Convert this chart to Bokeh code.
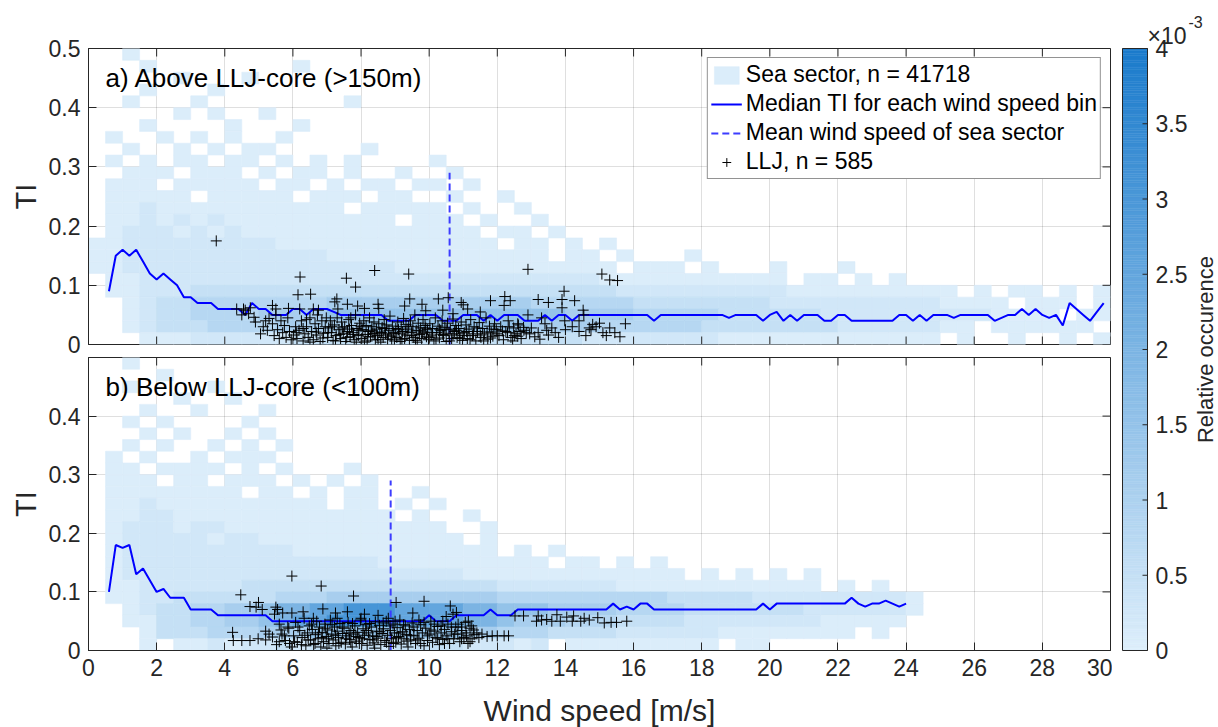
import numpy as np
from bokeh.plotting import figure
from bokeh.models import (ColumnDataSource, LinearColorMapper, FixedTicker, LinearAxis,
                          Label, Legend, LegendItem, Range1d, Grid)
from bokeh.layouts import row, column
from bokeh.embed import file_html
from bokeh.resources import INLINE
from bokeh.transform import transform

FONT = "Liberation Sans"
TXT = "#262626"

# ---------------- data ----------------
WS_BIN = 0.5      # heat-map column width [m/s]
TI_BIN = 0.02     # heat-map row height [-]
# relative occurrence per level code (0 = empty cell)
LEVELS = [0, 0.05e-3, 0.25e-3, 0.5e-3, 0.8e-3, 1.1e-3, 1.5e-3, 2.0e-3, 2.5e-3, 3.1e-3]

# heat-map rows, top (TI 0.48-0.50) to bottom (TI 0-0.02); columns of 0.5 m/s from 0 m/s
heat_a = [
    "0010000000",
    "0001000000 0010000000",
    "0000010001",
    "0001000100",
    "0010001000 0000010000",
    "0000010100 1000000000",
    "0001000010 0010000000",
    "0100101010 0100000000",
    "0010010101 1000001000",
    "0101011011 0101010000 1000000000",
    "0011101110 1011010010 0100000000",
    "0111011111 0110101101 1010000000",
    "0111110111 1101110110 0100100000",
    "0112111111 1111101111 1010010000",
    "0112121211 1111111101 1101001000",
    "0122212121 1111111111 1110110100",
    "1122222222 2111111111 1111011010 1000000000",
    "1122222222 2222111111 1111111011 0100010000",
    "1122222222 2222222211 1111111111 1011101000 1000100000",
    "0112222222 2222222222 2222222222 1111111111 1011010100",
    "0112223333 3333333333 3333333333 3222222222 2111111111 1010110101",
    "0012334444 4444555555 5555554444 4433333333 2222222222 1111011101",
    "0012334444 5555666666 6666666655 5544444333 3332222222 2221111011",
    "0012333444 4555556666 6666665555 4444443333 3333222222 1101111110",
    "0001112222 2233333333 3333333332 2222222111 1111111111 0100100101",
]
heat_b = [
    "0010000000",
    "0000100000",
    "0010000100",
    "0000010010",
    "0001001000 1000000000",
    "0010100001",
    "0001010010 1000000000",
    "0010100101 0100000000",
    "0101001011 1000000000",
    "0110111101 0100010000",
    "0111011011 1010101000",
    "0111111110 1101011001",
    "0112111111 1111011010 1000000000",
    "0112211111 1111111101 0010000000",
    "0122212211 1111111111 1001000000",
    "0122222122 1111111111 1101000000",
    "0122222222 2211111111 1111010100",
    "0122222222 2222222111 1111111011 0101000000",
    "0122222222 2222222222 2211111111 1111101010 1010000000",
    "0112222223 3333333333 3333222222 2111111111 1110101000",
    "0112233333 3444555555 5555444444 4444333332 2222222210",
    "0012334455 6778899988 8877666555 5444433333 3322222210",
    "0011334455 6788999988 8877655544 4333322222 2221111100",
    "0001333444 5556666666 6655444333 3222222111 1111101000",
    "0001011212 2323333233 3322212011 1111111011",
]

# median TI per 0.2 m/s wind speed bin, first bin centre 0.6 m/s
median_a = [
    0.09, 0.15, 0.16, 0.15, 0.16, 0.14, 0.12, 0.11, 0.12, 0.11,
    0.10, 0.08, 0.08, 0.07, 0.07, 0.07, 0.06, 0.06, 0.06, 0.06,
    0.05, 0.07, 0.06, 0.06, 0.05, 0.05, 0.05, 0.06, 0.06, 0.05,
    0.06, 0.06, 0.06, 0.055, 0.05, 0.05, 0.05, 0.05, 0.05, 0.05,
    0.05, 0.04, 0.04, 0.04, 0.04, 0.05, 0.05, 0.05, 0.05, 0.04,
    0.04, 0.04, 0.05, 0.05, 0.05, 0.04, 0.05, 0.04, 0.05, 0.05,
    0.05, 0.04, 0.04, 0.04, 0.05, 0.04, 0.05, 0.05, 0.04, 0.05,
    0.05, 0.05, 0.05, 0.05, 0.05, 0.05, 0.05, 0.05, 0.05, 0.05,
    0.04, 0.05, 0.05, 0.05, 0.05, 0.05, 0.05, 0.05, 0.05, 0.05,
    0.05, 0.045, 0.05, 0.05, 0.05, 0.05, 0.04, 0.05, 0.055, 0.04,
    0.05, 0.04, 0.05, 0.05, 0.05, 0.04, 0.04, 0.05, 0.05, 0.04,
    0.04, 0.04, 0.04, 0.04, 0.04, 0.04, 0.05, 0.05, 0.04, 0.05,
    0.04, 0.05, 0.05, 0.05, 0.045, 0.05, 0.05, 0.05, 0.05, 0.05,
    0.04, 0.045, 0.05, 0.05, 0.06, 0.05, 0.06, 0.05, 0.045, 0.05,
    0.032, 0.07, 0.06, 0.05, 0.04, 0.055, 0.07,
]
median_b = [
    0.10, 0.18, 0.175, 0.18, 0.13, 0.14, 0.12, 0.10, 0.105, 0.09,
    0.09, 0.09, 0.07, 0.07, 0.07, 0.07, 0.06, 0.06, 0.06, 0.06,
    0.06, 0.06, 0.06, 0.06, 0.05, 0.05, 0.05, 0.05, 0.05, 0.05,
    0.05, 0.05, 0.05, 0.05, 0.05, 0.05, 0.05, 0.05, 0.05, 0.05,
    0.05, 0.05, 0.05, 0.05, 0.05, 0.05, 0.05, 0.06, 0.05, 0.05,
    0.05, 0.06, 0.06, 0.06, 0.06, 0.06, 0.07, 0.06, 0.06, 0.06,
    0.07, 0.07, 0.07, 0.07, 0.07, 0.07, 0.07, 0.07, 0.07, 0.07,
    0.07, 0.07, 0.07, 0.07, 0.08, 0.07, 0.075, 0.07, 0.08, 0.08,
    0.07, 0.07, 0.07, 0.07, 0.07, 0.07, 0.07, 0.07, 0.07, 0.07,
    0.07, 0.07, 0.07, 0.07, 0.07, 0.07, 0.08, 0.07, 0.08, 0.08,
    0.08, 0.08, 0.08, 0.08, 0.08, 0.08, 0.08, 0.08, 0.08, 0.09,
    0.08, 0.075, 0.08, 0.08, 0.085, 0.08, 0.075, 0.08,
]
MEDIAN_FIRST_WS = 0.6
MEDIAN_STEP = 0.2

mean_ws_a = 10.6
mean_ws_b = 8.87
mean_line_top = 0.29

# LLJ events (wind speed, TI)
llj_a = [
    (3.75, 0.175), (6.21, 0.114), (7.57, 0.112), (8.40, 0.125), (9.40, 0.119), (12.9, 0.127),
    (15.07, 0.119), (15.3, 0.109), (15.53, 0.108), (6.15, 0.084), (6.52, 0.085), (7.84, 0.097),
    (7.29, 0.077), (7.23, 0.072), (9.43, 0.077), (9.28, 0.065), (9.79, 0.068), (7.6, 0.068),
    (7.9, 0.065), (8.1, 0.061), (8.5, 0.068), (8.52, 0.061), (7.32, 0.06), (6.6, 0.06),
    (6.75, 0.058), (6.2, 0.06), (5.87, 0.061), (5.4, 0.066), (5.5, 0.06), (4.55, 0.06),
    (4.7, 0.052), (4.86, 0.046), (4.9, 0.038), (4.5, 0.05), (4.35, 0.06), (4.6, 0.058),
    (4.75, 0.062), (10.27, 0.077), (10.56, 0.079), (10.94, 0.071), (11.0, 0.067), (11.13, 0.06),
    (11.8, 0.074), (12.22, 0.081), (12.38, 0.074), (12.2, 0.066), (13.2, 0.076), (13.5, 0.071),
    (13.9, 0.076), (13.96, 0.09), (14.27, 0.074), (13.9, 0.062), (14.52, 0.058), (14.54, 0.05),
    (14.4, 0.04), (14.8, 0.034), (15.0, 0.036), (15.1, 0.02), (15.3, 0.028), (15.45, 0.02),
    (14.7, 0.028), (14.4, 0.022), (14.2, 0.03), (14.0, 0.025), (13.98, 0.04), (13.4, 0.035),
    (13.6, 0.028), (13.7, 0.02), (13.5, 0.016), (13.2, 0.02), (13.1, 0.013), (12.95, 0.018),
    (12.77, 0.029), (12.67, 0.022), (12.6, 0.035), (12.5, 0.015), (12.3, 0.02), (15.76, 0.035),
    (15.6, 0.013), (15.2, 0.015), (14.9, 0.03), (14.75, 0.025), (14.6, 0.015), (13.3, 0.045),
    (12.9, 0.05), (11.5, 0.055), (10.4, 0.058), (9.9, 0.057), (10.7, 0.052),
    (5.05, 0.018), (5.13, 0.03), (5.2, 0.04), (5.3, 0.044), (5.4, 0.035), (5.45, 0.015),
    (5.55, 0.025), (5.6, 0.01), (5.7, 0.02), (5.75, 0.032), (5.8, 0.012), (5.85, 0.045),
    (5.9, 0.022), (5.95, 0.008), (5.5, 0.05),
    (6.02, 0.016), (6.08, 0.03), (6.12, 0.01), (6.18, 0.024), (6.25, 0.04), (6.3, 0.006),
    (6.35, 0.018), (6.4, 0.03), (6.45, 0.012), (6.5, 0.045), (6.55, 0.022), (6.6, 0.008),
    (6.65, 0.035), (6.7, 0.016), (6.75, 0.027), (6.8, 0.005), (6.85, 0.04), (6.9, 0.019),
    (6.95, 0.03), (6.72, 0.05),
    (7.02, 0.012), (7.05, 0.028), (7.1, 0.04), (7.13, 0.02), (7.18, 0.007), (7.22, 0.033),
    (7.27, 0.015), (7.3, 0.045), (7.35, 0.025), (7.4, 0.01), (7.43, 0.038), (7.48, 0.019),
    (7.52, 0.03), (7.55, 0.005), (7.6, 0.022), (7.64, 0.042), (7.68, 0.013), (7.72, 0.032),
    (7.76, 0.02), (7.8, 0.008), (7.84, 0.05), (7.88, 0.027), (7.92, 0.015), (7.96, 0.036),
    (8.02, 0.01), (8.05, 0.025), (8.08, 0.04), (8.12, 0.017), (8.15, 0.032), (8.18, 0.006),
    (8.22, 0.022), (8.25, 0.045), (8.28, 0.013), (8.32, 0.03), (8.35, 0.019), (8.38, 0.038),
    (8.42, 0.008), (8.45, 0.026), (8.48, 0.015), (8.52, 0.035), (8.55, 0.021), (8.58, 0.004),
    (8.62, 0.029), (8.65, 0.012), (8.68, 0.042), (8.72, 0.018), (8.75, 0.033), (8.78, 0.009),
    (8.82, 0.024), (8.85, 0.048), (8.88, 0.014), (8.92, 0.031), (8.95, 0.02), (8.98, 0.006),
    (9.02, 0.027), (9.05, 0.012), (9.08, 0.038), (9.12, 0.018), (9.15, 0.005), (9.18, 0.03),
    (9.22, 0.022), (9.25, 0.044), (9.28, 0.01), (9.32, 0.034), (9.35, 0.016), (9.38, 0.026),
    (9.42, 0.007), (9.45, 0.04), (9.48, 0.02), (9.52, 0.03), (9.55, 0.012), (9.58, 0.05),
    (9.62, 0.024), (9.65, 0.004), (9.68, 0.036), (9.72, 0.017), (9.75, 0.028), (9.78, 0.01),
    (9.82, 0.042), (9.85, 0.021), (9.88, 0.032), (9.92, 0.013), (9.95, 0.025), (9.98, 0.008),
    (10.02, 0.035), (10.06, 0.016), (10.1, 0.027), (10.14, 0.006), (10.18, 0.045), (10.22, 0.02),
    (10.26, 0.031), (10.3, 0.011), (10.34, 0.024), (10.38, 0.04), (10.42, 0.015), (10.46, 0.029),
    (10.5, 0.005), (10.54, 0.036), (10.58, 0.019), (10.62, 0.026), (10.66, 0.01), (10.7, 0.043),
    (10.74, 0.022), (10.78, 0.032), (10.82, 0.012), (10.86, 0.027), (10.9, 0.018), (10.94, 0.038),
    (10.98, 0.007),
    (11.03, 0.02), (11.08, 0.033), (11.12, 0.01), (11.17, 0.026), (11.22, 0.042), (11.27, 0.015),
    (11.32, 0.03), (11.37, 0.006), (11.42, 0.022), (11.47, 0.037), (11.52, 0.012), (11.57, 0.027),
    (11.62, 0.018), (11.67, 0.045), (11.72, 0.009), (11.77, 0.031), (11.82, 0.021), (11.87, 0.014),
    (11.92, 0.035), (11.97, 0.025),
    (12.05, 0.015), (12.1, 0.03), (12.18, 0.008), (12.25, 0.022), (12.32, 0.04), (12.4, 0.012),
    (12.48, 0.028), (12.55, 0.018), (12.62, 0.033), (12.7, 0.01), (12.78, 0.024),
    (7.03, 0.02), (7.15, 0.03), (7.25, 0.006), (7.38, 0.017), (7.45, 0.028), (7.58, 0.012),
    (7.66, 0.026), (7.78, 0.017), (7.86, 0.004), (7.94, 0.024), (8.0, 0.03), (8.1, 0.004),
    (8.2, 0.013), (8.3, 0.024), (8.4, 0.018), (8.5, 0.008), (8.6, 0.02), (8.7, 0.027),
    (8.8, 0.016), (8.9, 0.009), (9.0, 0.019), (9.1, 0.025), (9.2, 0.009), (9.3, 0.021),
    (9.4, 0.031), (9.5, 0.015), (9.6, 0.007), (9.7, 0.023), (9.8, 0.019), (9.9, 0.028),
    (10.0, 0.012), (10.1, 0.02), (10.2, 0.009), (10.3, 0.026), (10.4, 0.017), (10.5, 0.025),
    (10.6, 0.006), (10.7, 0.016), (10.8, 0.024), (10.9, 0.01), (11.0, 0.015), (11.1, 0.022),
    (11.2, 0.008), (11.3, 0.018), (11.4, 0.028), (11.5, 0.016), (11.6, 0.006), (11.7, 0.021),
    (11.8, 0.011), (11.9, 0.026), (12.0, 0.018), (12.15, 0.023), (12.35, 0.03), (12.45, 0.006),
    (12.6, 0.014), (12.85, 0.02), (13.0, 0.028), (13.25, 0.009), (13.45, 0.024), (13.8, 0.012),
    (6.1, 0.02), (6.3, 0.027), (6.5, 0.004), (6.68, 0.021), (6.88, 0.011), (5.65, 0.04),
    (5.25, 0.024), (6.4, 0.042), (6.98, 0.045), (7.7, 0.045),
]
llj_b = [
    (5.97, 0.127), (6.83, 0.11), (7.78, 0.093), (4.47, 0.095), (9.03, 0.082), (9.85, 0.084),
    (4.74, 0.075), (4.99, 0.082), (4.92, 0.074), (5.1, 0.07), (5.5, 0.074), (5.55, 0.07),
    (5.7, 0.064), (5.46, 0.062), (5.97, 0.064), (6.3, 0.066), (6.88, 0.071), (7.25, 0.064),
    (7.6, 0.066), (8.1, 0.062), (8.5, 0.06), (9.52, 0.064), (10.62, 0.076), (10.8, 0.065),
    (10.7, 0.062), (10.5, 0.058), (11.15, 0.05), (11.25, 0.042), (11.06, 0.048), (10.95, 0.04),
    (12.52, 0.059), (12.77, 0.059), (13.2, 0.059), (13.3, 0.052), (13.15, 0.05), (13.45, 0.053),
    (13.75, 0.061), (13.6, 0.05), (13.85, 0.05), (14.04, 0.057), (14.24, 0.059), (14.2, 0.05),
    (14.45, 0.05), (14.55, 0.055), (14.7, 0.052), (14.95, 0.056), (15.14, 0.047), (15.34, 0.048),
    (15.5, 0.048), (15.8, 0.05),
    (11.4, 0.03), (11.46, 0.022), (11.7, 0.024), (11.85, 0.025), (12.0, 0.025), (12.2, 0.025),
    (12.33, 0.025), (11.3, 0.035), (11.55, 0.028), (11.2, 0.015), (11.1, 0.025),
    (4.23, 0.031), (4.25, 0.017), (4.5, 0.017), (4.74, 0.017), (4.98, 0.02), (5.2, 0.033),
    (5.2, 0.018), (5.4, 0.023), (5.3, 0.028), (5.6, 0.015), (5.75, 0.025), (5.85, 0.04),
    (5.65, 0.035), (5.9, 0.012),
    (5.52, 0.01), (5.6, 0.045), (5.68, 0.028), (5.78, 0.017), (5.88, 0.038), (5.95, 0.006),
    (6.02, 0.025), (6.08, 0.048), (6.13, 0.014), (6.2, 0.034), (6.27, 0.022), (6.33, 0.055),
    (6.38, 0.008), (6.43, 0.03), (6.48, 0.042),
    (6.52, 0.018), (6.57, 0.036), (6.61, 0.01), (6.66, 0.027), (6.7, 0.05), (6.74, 0.02),
    (6.78, 0.04), (6.82, 0.006), (6.86, 0.031), (6.9, 0.015), (6.94, 0.045), (6.98, 0.024),
    (7.02, 0.035), (7.06, 0.012), (7.1, 0.052), (7.14, 0.028), (7.18, 0.018), (7.22, 0.04),
    (7.26, 0.008), (7.3, 0.033), (7.34, 0.022), (7.38, 0.046), (7.42, 0.014), (7.46, 0.029),
    (7.5, 0.038), (7.54, 0.011), (7.58, 0.025), (7.62, 0.048), (7.66, 0.019), (7.7, 0.034),
    (7.74, 0.006), (7.78, 0.028), (7.82, 0.042), (7.86, 0.016), (7.9, 0.031), (7.94, 0.022),
    (7.98, 0.052), (8.02, 0.012), (8.06, 0.037), (8.1, 0.026), (8.14, 0.044), (8.18, 0.009),
    (8.22, 0.03), (8.26, 0.019), (8.3, 0.04), (8.34, 0.025), (8.38, 0.013), (8.42, 0.049),
    (8.46, 0.033),
    (8.5, 0.021), (8.54, 0.043), (8.58, 0.01), (8.62, 0.029), (8.66, 0.037), (8.7, 0.017),
    (8.74, 0.05), (8.78, 0.026), (8.82, 0.007), (8.86, 0.034), (8.9, 0.02), (8.94, 0.045),
    (8.98, 0.03), (9.02, 0.014), (9.06, 0.039), (9.1, 0.024), (9.14, 0.052), (9.18, 0.011),
    (9.22, 0.032), (9.26, 0.02), (9.3, 0.042), (9.34, 0.027), (9.38, 0.006), (9.42, 0.036),
    (9.46, 0.018),
    (9.5, 0.047), (9.55, 0.025), (9.6, 0.012), (9.65, 0.034), (9.7, 0.021), (9.75, 0.044),
    (9.8, 0.03), (9.85, 0.008), (9.9, 0.038), (9.95, 0.017), (10.0, 0.028), (10.05, 0.05),
    (10.1, 0.014), (10.15, 0.033), (10.2, 0.022), (10.25, 0.041), (10.3, 0.01), (10.35, 0.03),
    (10.4, 0.019), (10.45, 0.036),
    (10.5, 0.025), (10.55, 0.045), (10.6, 0.012), (10.66, 0.032), (10.72, 0.02), (10.78, 0.04),
    (10.84, 0.028), (10.9, 0.015), (10.96, 0.034), (11.02, 0.022), (11.08, 0.03), (11.14, 0.012),
    (11.2, 0.038), (11.26, 0.02), (11.32, 0.027),
    (6.05, 0.015), (6.15, 0.04), (6.25, 0.01), (6.35, 0.026), (6.45, 0.018), (6.55, 0.045),
    (6.65, 0.012), (6.75, 0.03), (6.85, 0.022), (6.95, 0.038), (7.05, 0.02), (7.15, 0.044),
    (7.25, 0.026), (7.35, 0.012), (7.45, 0.04), (7.55, 0.02), (7.65, 0.03), (7.75, 0.046),
    (7.85, 0.024), (7.95, 0.012), (8.05, 0.02), (8.15, 0.034), (8.25, 0.046), (8.35, 0.018),
    (8.45, 0.024), (8.55, 0.032), (8.65, 0.047), (8.75, 0.014), (8.85, 0.042), (8.95, 0.012),
    (9.05, 0.022), (9.15, 0.03), (9.25, 0.044), (9.35, 0.016), (9.45, 0.026), (9.55, 0.04),
    (9.65, 0.018), (9.75, 0.012), (9.85, 0.048), (9.95, 0.025), (10.05, 0.035), (10.15, 0.045),
    (10.25, 0.02), (10.35, 0.042), (10.45, 0.012), (10.55, 0.02), (10.65, 0.04), (10.75, 0.028),
    (10.85, 0.045), (10.95, 0.02), (7.0, 0.004), (7.7, 0.014), (8.4, 0.004), (9.0, 0.05),
    (9.7, 0.052), (10.4, 0.05), (6.6, 0.055), (8.0, 0.055), (8.8, 0.055), (7.3, 0.055),
]

x_ticks = [0, 2, 4, 6, 8, 10, 12, 14, 16, 18, 20, 22, 24, 26, 28, 30]
y_ticks = [0, 0.1, 0.2, 0.3, 0.4, 0.5]
y_labels_a = {0: "0", 0.1: "0.1", 0.2: "0.2", 0.3: "0.3", 0.4: "0.4", 0.5: "0.5"}
y_labels_b = {0: "0", 0.1: "0.1", 0.2: "0.2", 0.3: "0.3", 0.4: "0.4", 0.5: ""}
cb_ticks = [0, 0.5, 1, 1.5, 2, 2.5, 3, 3.5, 4]
cb_labels = ["0", "0.5", "1", "1.5", "2", "2.5", "3", "3.5", "4"]
cb_low, cb_high = 0.0, 4.0e-3

legend_labels = ["Sea sector, n = 41718", "Median TI for each wind speed bin",
                 "Mean wind speed of sea sector", "LLJ, n = 585"]

# ---------------- colours ----------------
lo = np.array([221, 238, 251]); hi = np.array([27, 123, 204])
PALETTE = ["#%02x%02x%02x" % tuple(int(round(v)) for v in lo + (hi - lo) * t)
           for t in np.linspace(0, 1, 256)]
mapper = LinearColorMapper(palette=PALETTE, low=cb_low, high=cb_high)

FRAME_W = 1022
TICK_PX = 8


def heat_source(rows):
    xs, ys, vs, lv = [], [], [], []
    n = len(rows)
    for i, r in enumerate(rows):
        r = "".join(r.split())
        tib = n - 1 - i
        for c, ch in enumerate(r):
            lvl = int(ch)
            if lvl == 0:
                continue
            xs.append(c * WS_BIN + WS_BIN / 2)
            ys.append(tib * TI_BIN + TI_BIN / 2)
            vs.append(LEVELS[lvl])
            lv.append(lvl)
    return ColumnDataSource(dict(x=xs, y=ys, v=vs)), lv


def style_axis(ax, fs="23px"):
    ax.axis_line_color = TXT
    ax.major_tick_line_color = TXT
    ax.major_tick_in = TICK_PX
    ax.major_tick_out = 0
    ax.minor_tick_line_color = None
    ax.major_label_text_color = TXT
    ax.major_label_text_font = FONT
    ax.major_label_text_font_size = fs
    ax.major_label_standoff = 8


def inner_ticks(p, fh, sides):
    """MATLAB-style inward ticks on the unlabeled sides of the box."""
    dx = 30.0 / FRAME_W * TICK_PX
    dy = 0.5 / fh * TICK_PX
    x1 = x_ticks[-1]
    ylo = y_ticks[0]; yhi = y_ticks[-1]
    kw = dict(line_color=TXT, line_width=1)
    if "top" in sides:
        p.segment(x0=x_ticks, x1=x_ticks, y0=[yhi] * len(x_ticks), y1=[yhi - dy] * len(x_ticks), **kw)
    if "bottom" in sides:
        p.segment(x0=x_ticks, x1=x_ticks, y0=[ylo] * len(x_ticks), y1=[ylo + dy] * len(x_ticks), **kw)
    if "right" in sides:
        p.segment(x0=[x1] * len(y_ticks), x1=[x1 - dx] * len(y_ticks), y0=y_ticks, y1=y_ticks, **kw)


def make_panel(heat_rows, median, mean_ws, llj, label, top, bottom, fh, xlabels, ylab_over, legend):
    p = figure(frame_width=FRAME_W, frame_height=fh, x_range=Range1d(0, 30), y_range=Range1d(0, 0.5),
               x_axis_type=None, y_axis_type=None, output_backend="svg", toolbar_location=None,
               min_border_left=88, min_border_right=2, min_border_top=top, min_border_bottom=bottom,
               background_fill_color="white", border_fill_color="white")
    p.outline_line_color = TXT
    p.outline_line_width = 1
    xt = FixedTicker(ticks=x_ticks)
    yt = FixedTicker(ticks=y_ticks)
    p.add_layout(Grid(dimension=0, ticker=xt, grid_line_color=TXT, grid_line_alpha=0.15))
    p.add_layout(Grid(dimension=1, ticker=yt, grid_line_color=TXT, grid_line_alpha=0.15))

    left = LinearAxis(ticker=yt, major_label_overrides=ylab_over, axis_label="TI")
    style_axis(left)
    left.axis_label_text_font = FONT
    left.axis_label_text_font_size = "29px"
    left.axis_label_text_font_style = "normal"
    left.axis_label_text_color = TXT
    left.axis_label_standoff = 4
    p.add_layout(left, "left")

    if xlabels:
        below = LinearAxis(ticker=xt)
        style_axis(below)
        below.axis_label = "Wind speed [m/s]"
        below.axis_label_text_font = FONT
        below.axis_label_text_font_size = "30px"
        below.axis_label_text_font_style = "normal"
        below.axis_label_text_color = TXT
        below.axis_label_standoff = 15
        p.add_layout(below, "below")

    src, lv = heat_source(heat_rows)
    heat_r = p.rect(x="x", y="y", width=WS_BIN, height=TI_BIN, source=src,
                    fill_color=transform("v", mapper), line_color=transform("v", mapper),
                    line_width=0.6)

    ws_bins = [round(MEDIAN_FIRST_WS + MEDIAN_STEP * i, 1) for i in range(len(median))]
    med_r = p.line(ws_bins, median, line_color="#0000ff", line_width=2)
    mean_r = p.line([mean_ws, mean_ws], [0, mean_line_top], line_color="#3c3cff",
                    line_width=2, line_dash="7 4")
    xs = [a for a, b in llj]
    ys = [b for a, b in llj]
    llj_r = p.scatter(xs, ys, marker="cross", size=11, line_color="black", line_width=1)

    inner_ticks(p, fh, ["top", "right"] + ([] if xlabels else ["bottom"]))

    p.add_layout(Label(x=0.5, y=0.45, text=label, text_font=FONT, text_font_size="26px",
                       text_color="black", text_baseline="middle"))

    if legend:
        light_idx = lv.index(1)
        leg = Legend(items=[LegendItem(label=legend_labels[0], renderers=[heat_r], index=light_idx),
                            LegendItem(label=legend_labels[1], renderers=[med_r]),
                            LegendItem(label=legend_labels[2], renderers=[mean_r]),
                            LegendItem(label=legend_labels[3], renderers=[llj_r])],
                     location="top_right")
        leg.label_text_font = FONT
        leg.label_text_font_size = "23px"
        leg.label_text_color = "black"
        leg.glyph_width = 31
        leg.glyph_height = 22
        leg.label_height = 22
        leg.label_standoff = 4
        leg.spacing = 2
        leg.padding = 3
        leg.margin = 9
        leg.border_line_color = TXT
        leg.border_line_width = 1
        leg.background_fill_alpha = 1
        p.add_layout(leg)
    return p


pa = make_panel(heat_a, median_a, mean_ws_a, llj_a, "a) Above LLJ-core (>150m)",
                48, 13, 296, False, y_labels_a, True)
pb = make_panel(heat_b, median_b, mean_ws_b, llj_b, "b) Below LLJ-core (<100m)",
                0, 77, 293, True, y_labels_b, False)

# ---------------- colour bar (own figure; bar spans 0..4 in data units) ----------------
CB_PX_W = 25.0           # bar width in px
CB_PX_H = 602.0          # bar height in px
ux = 1.0 / CB_PX_W       # data units per px (x)
uy = 4.0 / CB_PX_H       # data units per px (y)
pc = figure(frame_width=106, frame_height=727,
            x_range=Range1d(-10 * ux, 96 * ux), y_range=Range1d(-77 * uy, 4 + 48 * uy),
            x_axis_type=None, y_axis_type=None, output_backend="svg", toolbar_location=None,
            min_border_left=0, min_border_right=0, min_border_top=0, min_border_bottom=0)
pc.outline_line_color = None
pc.grid.visible = False
s = cb_high / 4.0
edges = np.linspace(cb_low / s, cb_high / s, 257)
pc.quad(left=0, right=1, bottom=edges[:-1], top=edges[1:], fill_color=PALETTE,
        line_color=PALETTE, line_width=0.5)
pc.quad(left=[0], right=[1], bottom=[cb_low / s], top=[cb_high / s], fill_color=None,
        line_color=TXT, line_width=1)
pc.segment(x0=[1 - 5 * ux] * len(cb_ticks), x1=[1] * len(cb_ticks), y0=cb_ticks, y1=cb_ticks,
           line_color=TXT, line_width=1)
pc.text(x=[1 + 8 * ux] * len(cb_ticks), y=cb_ticks, text=cb_labels, text_font_size="23px",
        text_color=TXT, text_baseline="middle", text_align="left",
        text_font={"value": FONT})
pc.text(x=[83 * ux], y=[2.0], text=["Relative occurence"], angle=np.pi / 2,
        text_font_size="22px", text_color=TXT, text_align="center", text_baseline="middle",
        text_font={"value": FONT})
pc.text(x=[1.0], y=[4 + 13 * uy], text=["×10"], text_font_size="23px", text_color=TXT,
        text_baseline="alphabetic", text_align="left", text_font={"value": FONT})
pc.text(x=[1 + 41 * ux], y=[4 + 27 * uy], text=["-3"], text_font_size="16px", text_color=TXT,
        text_baseline="alphabetic", text_align="left", text_font={"value": FONT})

layout = row(column(pa, pb), pc)
open("out.html", "w").write(file_html(layout, INLINE))
